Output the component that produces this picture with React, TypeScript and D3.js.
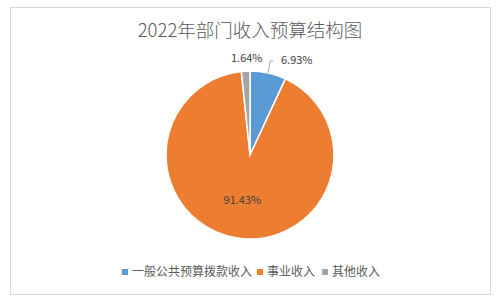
import React from "react";
import * as d3 from "d3";

const categories = ["一般公共预算拨款收入", "事业收入", "其他收入"];
const values = [6.93, 91.43, 1.64];
const colors = ["#5B9BD5", "#ED7D31", "#A5A5A5"];
const labels = ["6.93%", "91.43%", "1.64%"];

export default function App() {
  const W = 499, H = 303;
  const cx = 250, cy = 155, r = 84;
  const pie = d3.pie<number>().sort(null).value(d => d)(values);
  const arc = d3.arc<d3.PieArcDatum<number>>().innerRadius(0).outerRadius(r);
  const font = "'Microsoft YaHei', 'Noto Sans CJK SC', sans-serif";
  const blue = pie[0];
  const bMid = (blue.startAngle + blue.endAngle) / 2;
  const bx = cx + r * Math.sin(bMid), by = cy - r * Math.cos(bMid);
  const orange = pie[1];
  const oMid = (orange.startAngle + orange.endAngle) / 2;
  const ox = cx + r * 0.55 * Math.sin(oMid), oy = cy - r * 0.55 * Math.cos(oMid);
  const legendX = [122, 257, 322];
  return (
    <svg width={W} height={H} style={{ position: "absolute", left: 0, top: 0 }}>
      <rect x={0} y={0} width={W} height={H} fill="#fff" />
      <rect x={10.5} y={7.5} width={480} height={287} fill="#fff" stroke="#D9D9D9" strokeWidth={1} />
      <text x={250} y={37} textAnchor="middle" fontFamily={font} fontSize={18.5} fontWeight={300} fill="#595959">2022年部门收入预算结构图</text>
      <g transform={`translate(${cx},${cy})`}>
        {pie.map((p, i) => (
          <path key={i} d={arc(p) || ""} fill={colors[i]} stroke="#fff" strokeWidth={1.5} />
        ))}
      </g>
      <polyline points={`${bx},${by} ${bx + 2},${61} ${bx + 5},${61}`} fill="none" stroke="#A6A6A6" strokeWidth={1} />
      <text x={281} y={64} fontFamily={font} fontSize={11} fill="#404040">{labels[0]}</text>
      <text x={231} y={62} fontFamily={font} fontSize={11} fill="#404040">{labels[2]}</text>
      <text x={ox} y={oy} textAnchor="middle" fontFamily={font} fontSize={11} fill="#404040" dominantBaseline="middle">{labels[1]}</text>
      {categories.map((c, i) => (
        <g key={i} transform={`translate(${legendX[i]},272)`}>
          <rect x={0} y={-3} width={6} height={6} fill={colors[i]} />
          <text x={10} y={4} fontFamily={font} fontSize={12} fill="#595959">{c}</text>
        </g>
      ))}
    </svg>
  );
}
